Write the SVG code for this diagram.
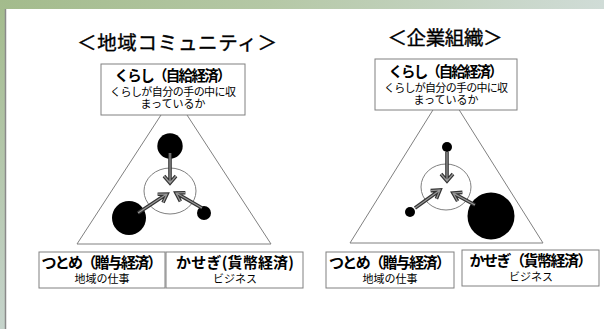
<svg xmlns="http://www.w3.org/2000/svg" xmlns:xlink="http://www.w3.org/1999/xlink" width="604" height="329" viewBox="0 0 604 329">
<defs>
<linearGradient id="topg" x1="0" y1="0" x2="1" y2="0">
<stop offset="0" stop-color="#a3bb8c"/>
<stop offset="0.45" stop-color="#b5c8a6"/>
<stop offset="1" stop-color="#d0dcd7"/>
</linearGradient>
<linearGradient id="leftg" x1="0" y1="0" x2="0" y2="1">
<stop offset="0" stop-color="#a3bb8c"/>
<stop offset="1" stop-color="#c6d4cc"/>
</linearGradient>
<style>
.t{font-family:"Noto Sans CJK JP","Noto Sans CJK SC",sans-serif;fill:#000;text-anchor:middle}
.title{font-size:19.5px;stroke:#000;stroke-width:0.35}
.b{font-size:14.5px;font-weight:bold}
.bb{font-size:15px;font-weight:bold}
.s{font-size:11px}
.box{fill:#fff;stroke:#808080;stroke-width:1}
.tri{fill:none;stroke:#808080;stroke-width:1}
.ring{fill:none;stroke:#808080;stroke-width:1}
.dot{fill:#000}
.ao{fill:none;stroke:#333;stroke-width:3.6;stroke-linecap:butt;stroke-linejoin:miter}
.ai{fill:none;stroke:#999;stroke-width:1.2;stroke-linejoin:miter}
</style>
<path id="a1" d="M170,153 L170,182 M164,176 L170,183 L176,176"/>
<path id="a2" d="M138,213 L166,194.5 M163,202.6 L167,194 L157.6,194.2"/>
<path id="a3" d="M202,208 L177,193.6 M180.4,201.3 L176,193 L185.4,192.7"/>
<path id="b1" d="M447,152 L447,180 M441,174 L447,181 L453,174"/>
<path id="b2" d="M415,208 L439,190.7 M436.4,198.8 L440,190 L430.6,190.6"/>
<path id="b3" d="M475,205 L454,193.6 M457.6,201.2 L453,193 L462.4,192.4"/>
</defs>
<rect x="0" y="0" width="604" height="329" fill="#ffffff"/>
<rect x="0" y="0" width="604" height="9" fill="url(#topg)"/>
<rect x="0" y="0" width="5" height="329" fill="url(#leftg)"/>
<line x1="5.5" y1="9" x2="5.5" y2="329" stroke="#8a8a8a" stroke-width="1.5"/>

<g id="left-title"><text class="t title" x="177" y="50" textLength="200">＜地域コミュニティ＞</text></g>
<g id="right-title"><text class="t title" x="445" y="45" textLength="115">＜企業組織＞</text></g>

<g id="left-triangle"><polygon class="tri" points="174,95 77,244 271,244"/></g>
<g id="right-triangle"><polygon class="tri" points="446,89 350,243 543,243"/></g>

<g id="left-kurashi">
<rect class="box" x="101" y="64" width="144" height="51"/>
<text class="t b" x="173" y="81" textLength="117">くらし（自給経済）</text>
<text class="t s" x="173" y="96" textLength="126">くらしが自分の手の中に収</text>
<text class="t s" x="173" y="107.5">まっているか</text>
</g>
<g id="right-kurashi">
<rect class="box" x="375" y="59" width="142" height="51"/>
<text class="t b" x="446" y="77" textLength="115">くらし（自給経済）</text>
<text class="t s" x="446" y="92" textLength="124">くらしが自分の手の中に収</text>
<text class="t s" x="446" y="103.5">まっているか</text>
</g>

<g id="left-tsutome">
<rect class="box" x="39" y="252" width="126" height="36"/>
<text class="t bb" x="102" y="268" textLength="121">つとめ（贈与経済）</text>
<text class="t s" x="102" y="283">地域の仕事</text>
</g>
<g id="left-kasegi">
<rect class="box" x="166" y="252" width="137" height="36"/>
<text class="t bb" x="235" y="268" textLength="118">かせぎ(貨幣経済)</text>
<text class="t s" x="235" y="283">ビジネス</text>
</g>
<g id="right-tsutome">
<rect class="box" x="326" y="252" width="128" height="36"/>
<text class="t bb" x="390" y="268" textLength="122">つとめ（贈与経済）</text>
<text class="t s" x="390" y="283">地域の仕事</text>
</g>
<g id="right-kasegi">
<rect class="box" x="462" y="250" width="137" height="36"/>
<text class="t bb" x="531" y="266" textLength="123">かせぎ（貨幣経済）</text>
<text class="t s" x="531" y="281">ビジネス</text>
</g>

<g id="left-center"><ellipse class="ring" cx="170" cy="191" rx="26" ry="23"/></g>
<g id="left-top-dot"><circle class="dot" cx="170" cy="146" r="12.7"/></g>
<g id="left-bl-dot"><circle class="dot" cx="129" cy="218" r="17"/></g>
<g id="left-br-dot"><circle class="dot" cx="204" cy="213" r="7"/></g>

<g id="right-center"><ellipse class="ring" cx="446" cy="187" rx="25" ry="23"/></g>
<g id="right-top-dot"><circle class="dot" cx="447" cy="147" r="5"/></g>
<g id="right-bl-dot"><circle class="dot" cx="410" cy="212" r="5"/></g>
<g id="right-br-dot"><circle class="dot" cx="491" cy="216" r="23.5"/></g>

<g id="connectors">
<use xlink:href="#a1" class="ao"/><use xlink:href="#a1" class="ai"/>
<use xlink:href="#a2" class="ao"/><use xlink:href="#a2" class="ai"/>
<use xlink:href="#a3" class="ao"/><use xlink:href="#a3" class="ai"/>
<use xlink:href="#b1" class="ao"/><use xlink:href="#b1" class="ai"/>
<use xlink:href="#b2" class="ao"/><use xlink:href="#b2" class="ai"/>
<use xlink:href="#b3" class="ao"/><use xlink:href="#b3" class="ai"/>
</g>
</svg>
